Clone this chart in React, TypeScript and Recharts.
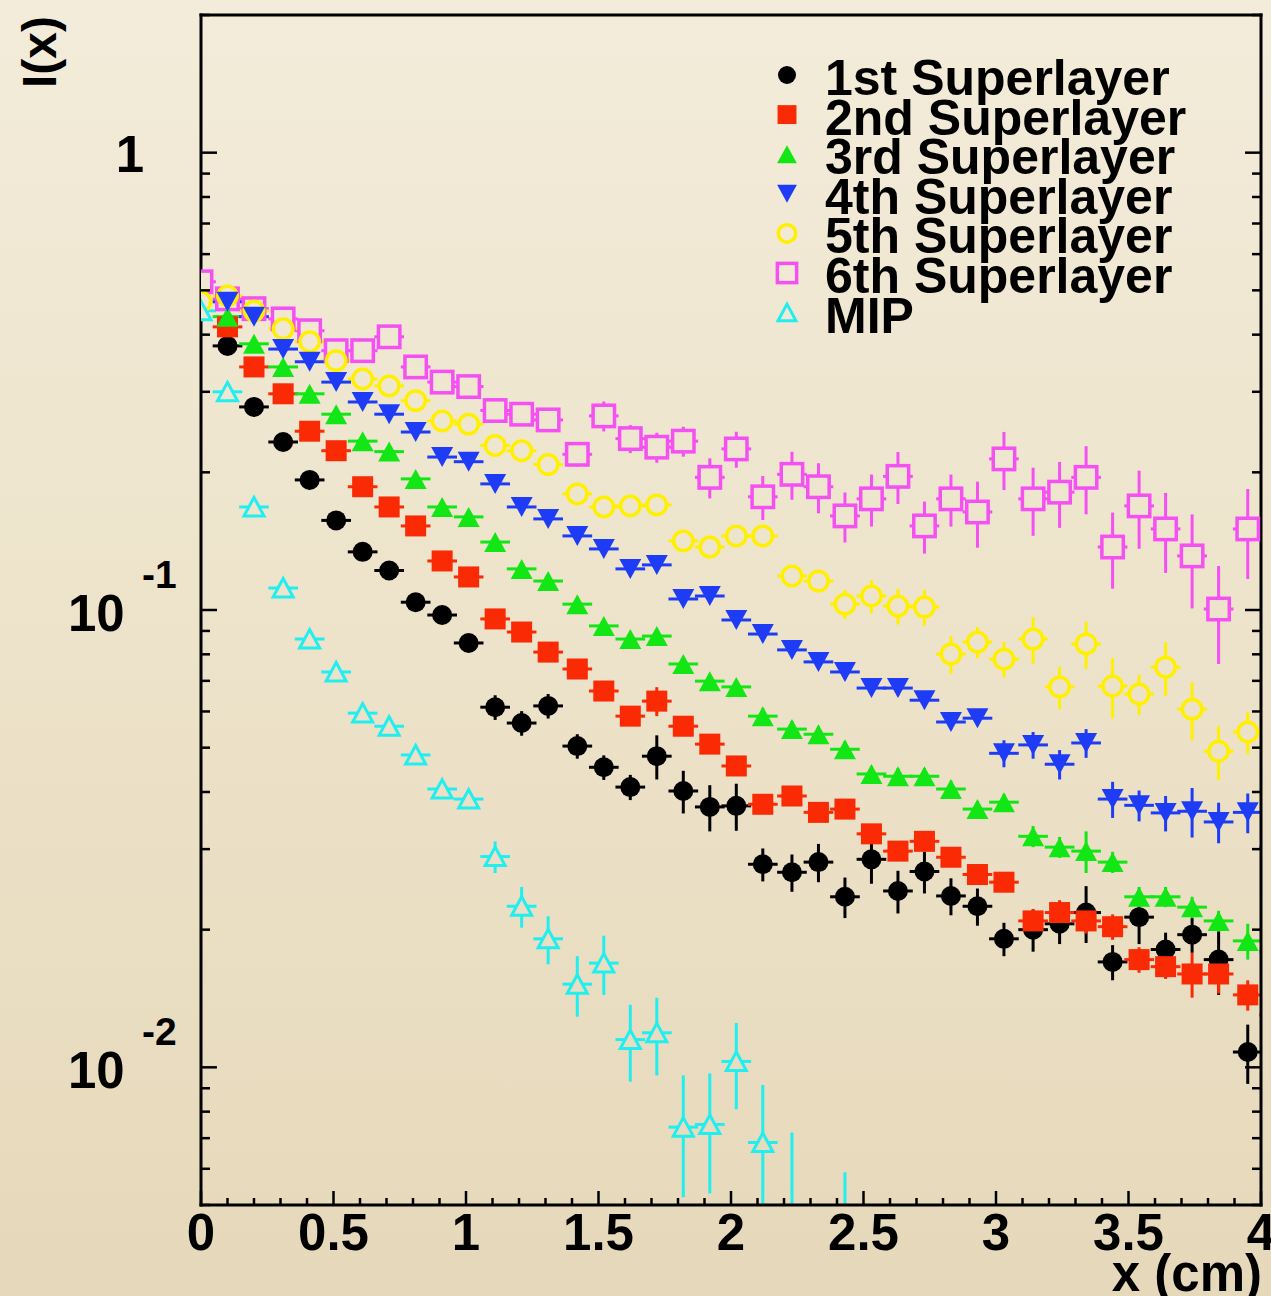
import {
  ErrorBar,
  Legend,
  Scatter,
  ScatterChart,
  XAxis,
  YAxis,
} from "recharts";

// bin positions along x (cm), shared by every series
const X_CM = [
  0.0, 0.1, 0.2, 0.31, 0.41, 0.51, 0.61, 0.71, 0.81, 0.91, 1.01, 1.11, 1.21,
  1.31, 1.42, 1.52, 1.62, 1.72, 1.82, 1.92, 2.02, 2.12, 2.23, 2.33, 2.43, 2.53,
  2.63, 2.73, 2.83, 2.93, 3.03, 3.14, 3.24, 3.34, 3.44, 3.54, 3.64, 3.74, 3.84,
  3.95, 4.05,
];

// I(x) for each superlayer (null = no point in that bin)
const SL1 = [
  null, 0.378, 0.278, 0.233, 0.1925, 0.157, 0.134, 0.122, 0.104, 0.0975, 0.0847,
  0.0613, 0.0566, 0.0617, 0.0504, 0.0453, 0.041, 0.0479, 0.0402, 0.0371, 0.0373,
  0.0278, 0.0267, 0.0281, 0.0236, 0.0285, 0.0243, 0.0268, 0.0237, 0.0225, 0.0191,
  0.02, 0.0206, 0.0218, 0.017, 0.0213, 0.0181, 0.0195, 0.0172, 0.0108, null,
];
const SL1_ERR = [
  null, 0.0096, 0.0071, 0.0059, 0.0049, 0.004, 0.0034, 0.0031, 0.0027, 0.0025,
  0.0022, 0.0038, 0.0035, 0.0038, 0.0031, 0.0028, 0.0026, 0.0053, 0.0043, 0.0043,
  0.0044, 0.0023, 0.0025, 0.0027, 0.0024, 0.0033, 0.0026, 0.0028, 0.0022, 0.0021,
  0.0016, 0.0021, 0.002, 0.0031, 0.0015, 0.0027, 0.0016, 0.0017, 0.0028, 0.0016,
  null,
];

const SL2 = [
  null, 0.416, 0.34, 0.297, 0.246, 0.223, 0.186, 0.168, 0.1527, 0.128, 0.1181,
  0.0956, 0.0895, 0.0809, 0.0743, 0.0665, 0.0586, 0.0632, 0.0557, 0.0509, 0.0456,
  0.0376, 0.0392, 0.0361, 0.0367, 0.0324, 0.0297, 0.0312, 0.0288, 0.0264, 0.0254,
  0.0209, 0.0218, 0.0209, 0.0203, 0.0172, 0.0166, 0.016, 0.016, 0.0144, 0.013,
];
const SL2_ERR = [
  null, 0.0128, 0.0104, 0.0091, 0.0076, 0.0068, 0.0057, 0.0052, 0.0047, 0.0039,
  0.0036, 0.0029, 0.0027, 0.0025, 0.0023, 0.002, 0.0018, 0.0046, 0.0026, 0.0024,
  0.0021, 0.0017, 0.0018, 0.0017, 0.0017, 0.0015, 0.0014, 0.0014, 0.0013, 0.0012,
  0.0012, 0.0013, 0.0014, 0.0013, 0.0013, 0.0011, 0.001, 0.0018, 0.0015, 0.0011,
  0.001,
];

const SL3 = [
  null, 0.438, 0.382, 0.34, 0.297, 0.268, 0.234, 0.222, 0.1935, 0.168, 0.1598,
  0.1408, 0.123, 0.1157, 0.103, 0.0923, 0.0864, 0.0877, 0.0762, 0.0699, 0.0679,
  0.0586, 0.0549, 0.0535, 0.0496, 0.0438, 0.0433, 0.0433, 0.0406, 0.0367, 0.038,
  0.032, 0.0303, 0.0297, 0.0281, 0.0236, 0.0236, 0.0224, 0.0209, 0.0189, 0.0179,
];
const SL3_ERR = [
  null, 0.0112, 0.0097, 0.0087, 0.0076, 0.0068, 0.006, 0.0057, 0.0049, 0.0043,
  0.0041, 0.0036, 0.0031, 0.003, 0.0026, 0.0024, 0.0022, 0.0022, 0.0019, 0.0018,
  0.0017, 0.0024, 0.0023, 0.0022, 0.002, 0.0018, 0.0018, 0.0018, 0.0017, 0.0015,
  0.0016, 0.0017, 0.0016, 0.0031, 0.0015, 0.0012, 0.0012, 0.0012, 0.0011, 0.0017,
  0.0012,
];

const SL4 = [
  null, 0.472, 0.438, 0.372, 0.349, 0.315, 0.285, 0.268, 0.245, 0.216, 0.211,
  0.1887, 0.168, 0.1582, 0.1452, 0.136, 0.123, 0.1255, 0.1057, 0.1073, 0.0951,
  0.0886, 0.0818, 0.077, 0.0732, 0.0675, 0.0675, 0.0635, 0.0569, 0.058, 0.0486,
  0.0507, 0.046, 0.0512, 0.0386, 0.0374, 0.036, 0.0363, 0.0344, 0.0361, 0.0303,
];
const SL4_ERR = [
  null, 0.0096, 0.0089, 0.0076, 0.0071, 0.0064, 0.0058, 0.0055, 0.005, 0.0044,
  0.0043, 0.0038, 0.0034, 0.0032, 0.003, 0.0028, 0.0025, 0.0026, 0.0022, 0.0022,
  0.0034, 0.0032, 0.0029, 0.0028, 0.0026, 0.0024, 0.0024, 0.0023, 0.002, 0.0021,
  0.0033, 0.0034, 0.0034, 0.0037, 0.0035, 0.0029, 0.0032, 0.0045, 0.0035, 0.0036,
  0.0035,
];

const SL5 = [
  0.472, 0.486, 0.451, 0.412, 0.386, 0.351, 0.32, 0.309, 0.287, 0.259, 0.255,
  0.229, 0.223, 0.208, 0.1794, 0.168, 0.1689, 0.1698, 0.1416, 0.1373, 0.1452,
  0.1452, 0.1187, 0.1157, 0.103, 0.1073, 0.102, 0.1015, 0.0801, 0.0851, 0.0781,
  0.0864, 0.0679, 0.0843, 0.0682, 0.0655, 0.075, 0.0607, 0.0491, 0.0541, 0.0696,
];
const SL5_ERR = [
  0.012, 0.0124, 0.0115, 0.0105, 0.0098, 0.009, 0.0082, 0.0079, 0.0073, 0.0066,
  0.0065, 0.0058, 0.0057, 0.0053, 0.0046, 0.0043, 0.0043, 0.0043, 0.0036, 0.0035,
  0.0075, 0.0075, 0.0061, 0.006, 0.0075, 0.009, 0.0091, 0.0091, 0.0076, 0.0067,
  0.007, 0.0101, 0.0072, 0.0099, 0.0103, 0.0066, 0.0101, 0.0088, 0.0066, 0.0057,
  0.0074,
];

const SL6 = [
  0.522, 0.479, 0.456, 0.433, 0.408, 0.369, 0.369, 0.3957, 0.34, 0.315, 0.308,
  0.273, 0.268, 0.2604, 0.219, 0.2657, 0.237, 0.227, 0.234, 0.195, 0.225, 0.1768,
  0.198, 0.186, 0.1606, 0.175, 0.196, 0.1527, 0.175, 0.1638, 0.214, 0.175, 0.181,
  0.195, 0.1373, 0.1689, 0.1504, 0.1313, 0.1005, 0.1504, null,
];
const SL6_ERR = [
  0.0158, 0.0145, 0.0138, 0.0131, 0.0123, 0.0111, 0.0111, 0.012, 0.0154, 0.0143,
  0.014, 0.0124, 0.0121, 0.0118, 0.0132, 0.02, 0.0167, 0.0171, 0.0176, 0.0196,
  0.0203, 0.0195, 0.0238, 0.0233, 0.0201, 0.0228, 0.0255, 0.0199, 0.0228, 0.027,
  0.0311, 0.0297, 0.0298, 0.0331, 0.026, 0.0328, 0.0299, 0.0305, 0.0243, 0.0335,
  null,
];

const MIP = [
  0.451, 0.3, 0.168, 0.1117, 0.0864, 0.0732, 0.0595, 0.0557, 0.0482, 0.0406,
  0.0386, 0.0289, 0.0225, 0.0191, 0.0152, 0.0169, 0.0115, 0.0119, 0.0074, 0.0075,
  0.0103, 0.00685, 0.0035, null, 0.002,
];
const MIP_ERR = [
  0.0114, 0.0076, 0.0042, 0.0028, 0.0035, 0.003, 0.0024, 0.0022, 0.0019, 0.0016,
  0.0016, 0.0023, 0.0023, 0.0023, 0.0023, 0.0025, 0.0022, 0.0023, 0.0022, 0.0022,
  0.0022, 0.0023, 0.0037, null, 0.0039,
];

const X_HALF_BIN = 0.056;

const X_TICKS = [
  0, 0.1, 0.2, 0.3, 0.4, 0.5, 0.6, 0.7, 0.8, 0.9, 1, 1.1, 1.2, 1.3, 1.4, 1.5,
  1.6, 1.7, 1.8, 1.9, 2, 2.1, 2.2, 2.3, 2.4, 2.5, 2.6, 2.7, 2.8, 2.9, 3, 3.1,
  3.2, 3.3, 3.4, 3.5, 3.6, 3.7, 3.8, 3.9, 4,
];
const X_LABELS = [0, 0.5, 1, 1.5, 2, 2.5, 3, 3.5, 4];
const Y_TICKS = [
  0.005, 0.006, 0.007, 0.008, 0.009, 0.01, 0.02, 0.03, 0.04, 0.05, 0.06, 0.07,
  0.08, 0.09, 0.1, 0.2, 0.3, 0.4, 0.5, 0.6, 0.7, 0.8, 0.9, 1, 2,
];
const Y_LABELS = [0.01, 0.1, 1];

const FONT = "'Liberation Sans', Arial, Helvetica, sans-serif";
const BG = ["#f3ecda", "#ede3ca", "#e6d8ba"];

// chart box and axis sizes; the frame is what is left inside them
const CHART_W = 1271;
const CHART_H = 1296;
const LEFT_AXIS_W = 201;
const RIGHT_AXIS_W = 10;
const TOP_AXIS_H = 15;
const BOTTOM_AXIS_H = 91;

const SERIES = [
  { name: "1st Superlayer", values: SL1, errors: SL1_ERR, color: "#000000", marker: "circle" },
  { name: "2nd Superlayer", values: SL2, errors: SL2_ERR, color: "#fa2a05", marker: "square" },
  { name: "3rd Superlayer", values: SL3, errors: SL3_ERR, color: "#12e614", marker: "triangleUp" },
  { name: "4th Superlayer", values: SL4, errors: SL4_ERR, color: "#1e3cf5", marker: "triangleDown" },
  { name: "5th Superlayer", values: SL5, errors: SL5_ERR, color: "#fff000", marker: "openCircle" },
  { name: "6th Superlayer", values: SL6, errors: SL6_ERR, color: "#f450f2", marker: "openSquare" },
  { name: "MIP", values: MIP, errors: MIP_ERR, color: "#22eef0", marker: "openTriangle" },
];

// hollow markers first, so their background fill never covers a solid one
const DRAW_ORDER = [5, 4, 6, 0, 1, 2, 3];

const toPoints = (values: (number | null)[], errors: (number | null)[]) =>
  X_CM.flatMap((x, i) => {
    const y = values[i];
    if (y == null) return [];
    const e = errors[i] ?? 0;
    return [{ x, y, ex: X_HALF_BIN, ey: [Math.min(e, y * 0.98), e] }];
  });

const Marker = ({ cx, cy, kind, color, scale = 1 }: any) => {
  if (cx == null || cy == null || Number.isNaN(cx) || Number.isNaN(cy)) return null;
  const s = scale;
  switch (kind) {
    case "circle":
      return <circle cx={cx} cy={cy} r={10 * s} fill={color} />;
    case "square":
      return <rect x={cx - 10.5 * s} y={cy - 10.5 * s} width={21 * s} height={21 * s} fill={color} />;
    case "triangleUp":
      return (
        <polygon
          points={`${cx - 11 * s},${cy + 10 * s} ${cx + 11 * s},${cy + 10 * s} ${cx},${cy - 10 * s}`}
          fill={color}
        />
      );
    case "triangleDown":
      return (
        <polygon
          points={`${cx - 11 * s},${cy - 10 * s} ${cx + 11 * s},${cy - 10 * s} ${cx},${cy + 10 * s}`}
          fill={color}
        />
      );
    case "openCircle":
      return <circle cx={cx} cy={cy} r={9.7 * s} fill="url(#page-bg)" stroke={color} strokeWidth={3.5} />;
    case "openSquare":
      return (
        <rect
          x={cx - 10.7 * s}
          y={cy - 10.7 * s}
          width={21.4 * s}
          height={21.4 * s}
          fill="url(#page-bg)"
          stroke={color}
          strokeWidth={3.5}
        />
      );
    default:
      return (
        <polygon
          points={`${cx - 10 * s},${cy + 9 * s} ${cx + 10 * s},${cy + 9 * s} ${cx},${cy - 9.5 * s}`}
          fill="url(#page-bg)"
          stroke={color}
          strokeWidth={3}
        />
      );
  }
};

const labelStyle = { fontFamily: FONT, fontWeight: 700, fill: "#000" };

const XTickBottom = ({ x, y, payload }: any) => {
  const major = X_LABELS.includes(payload.value);
  return (
    <g>
      <line x1={x} x2={x} y1={y} y2={y - (major ? 14 : 7)} stroke="#000" strokeWidth={2.5} />
      {major && (
        <text x={x} y={y + 45} textAnchor="middle" fontSize={51} {...labelStyle}>
          {String(payload.value)}
        </text>
      )}
    </g>
  );
};

const XTickTop = ({ x, y, payload }: any) => {
  const major = X_LABELS.includes(payload.value);
  return <line x1={x} x2={x} y1={y} y2={y + (major ? 14 : 7)} stroke="#000" strokeWidth={2.5} />;
};

const YTickLeft = ({ x, y, payload }: any) => {
  const v = payload.value;
  const major = Y_LABELS.includes(v);
  const exp = Math.round(Math.log10(v));
  return (
    <g>
      <line x1={x} x2={x + (major ? 16 : 9)} y1={y} y2={y} stroke="#000" strokeWidth={2.5} />
      {major && exp === 0 && (
        <text x={x - 57} y={y + 19} textAnchor="end" fontSize={51} {...labelStyle}>
          1
        </text>
      )}
      {major && exp !== 0 && (
        <g>
          <text x={x - 133} y={y + 21} fontSize={51} {...labelStyle}>
            10
          </text>
          <text x={x - 59} y={y - 22} fontSize={39} {...labelStyle}>
            {`-${Math.abs(exp)}`}
          </text>
        </g>
      )}
    </g>
  );
};

const YTickRight = ({ x, y, payload }: any) => {
  const major = Y_LABELS.includes(payload.value);
  return <line x1={x} x2={x - (major ? 16 : 9)} y1={y} y2={y} stroke="#000" strokeWidth={2.5} />;
};

const XTitle = (props: any) => {
  const vb = props.viewBox ?? { x: LEFT_AXIS_W, y: CHART_H - BOTTOM_AXIS_H, width: 1060, height: BOTTOM_AXIS_H };
  return (
    <text x={vb.x + vb.width + 1} y={vb.y + 86} textAnchor="end" fontSize={51} {...labelStyle}>
      x (cm)
    </text>
  );
};

const YTitle = (props: any) => {
  const vb = props.viewBox ?? { x: 0, y: TOP_AXIS_H, width: LEFT_AXIS_W, height: 1190 };
  const tx = vb.x + 56;
  const ty = vb.y + 1;
  return (
    <text x={tx} y={ty} transform={`rotate(-90, ${tx}, ${ty})`} textAnchor="end" fontSize={48} {...labelStyle}>
      I(x)
    </text>
  );
};

const LegendBox = ({ payload }: any) => {
  const names = SERIES.map((s) => s.name);
  const items = [...(payload ?? [])].sort((a, b) => names.indexOf(a.value) - names.indexOf(b.value));
  return (
    <svg width={480} height={300} style={{ overflow: "visible" }}>
      {items.map((item: any, i: number) => {
        const s = SERIES[names.indexOf(item.value)];
        if (!s) return null;
        const cy = 25 + i * 39.6;
        return (
          <g key={s.name}>
            <Marker cx={27} cy={cy} kind={s.marker} color={s.color} scale={0.9} />
            <text x={65} y={cy + 20} fontSize={50} {...labelStyle}>
              {s.name}
            </text>
          </g>
        );
      })}
    </svg>
  );
};

const frameStroke = { stroke: "#000", strokeWidth: 3, strokeLinecap: "square" as const };

export default function App() {
  return (
    <div
      style={{
        position: "absolute",
        left: 0,
        top: 0,
        width: CHART_W,
        height: CHART_H,
        background: `linear-gradient(to bottom, ${BG[0]} 0%, ${BG[1]} 50%, ${BG[2]} 100%)`,
      }}
    >
      <style>{".recharts-scatter, .recharts-errorBars { clip-path: url(#plot-clip); }"}</style>
      <svg width={0} height={0} style={{ position: "absolute" }}>
        <defs>
          <linearGradient id="page-bg" gradientUnits="userSpaceOnUse" x1={0} y1={0} x2={0} y2={CHART_H}>
            <stop offset="0%" stopColor={BG[0]} />
            <stop offset="50%" stopColor={BG[1]} />
            <stop offset="100%" stopColor={BG[2]} />
          </linearGradient>
          <clipPath id="plot-clip">
            <rect
              x={LEFT_AXIS_W}
              y={TOP_AXIS_H}
              width={CHART_W - LEFT_AXIS_W - RIGHT_AXIS_W}
              height={CHART_H - TOP_AXIS_H - BOTTOM_AXIS_H}
            />
          </clipPath>
        </defs>
      </svg>
      <ScatterChart width={CHART_W} height={CHART_H} margin={{ top: 0, right: 0, bottom: 0, left: 0 }}>
        <XAxis
          type="number"
          dataKey="x"
          domain={[0, 4]}
          allowDataOverflow
          ticks={X_TICKS}
          interval={0}
          tick={XTickBottom}
          tickLine={false}
          tickSize={0}
          tickMargin={0}
          height={BOTTOM_AXIS_H}
          axisLine={frameStroke}
          label={XTitle}
        />
        <XAxis
          xAxisId="top"
          orientation="top"
          type="number"
          domain={[0, 4]}
          allowDataOverflow
          ticks={X_TICKS}
          interval={0}
          tick={XTickTop}
          tickLine={false}
          tickSize={0}
          tickMargin={0}
          height={TOP_AXIS_H}
          axisLine={frameStroke}
        />
        <YAxis
          type="number"
          dataKey="y"
          scale="log"
          domain={[0.005, 2]}
          allowDataOverflow
          ticks={Y_TICKS}
          interval={0}
          tick={YTickLeft}
          tickLine={false}
          tickSize={0}
          tickMargin={0}
          width={LEFT_AXIS_W}
          axisLine={frameStroke}
          label={YTitle}
        />
        <YAxis
          yAxisId="right"
          orientation="right"
          type="number"
          scale="log"
          domain={[0.005, 2]}
          allowDataOverflow
          ticks={Y_TICKS}
          interval={0}
          tick={YTickRight}
          tickLine={false}
          tickSize={0}
          tickMargin={0}
          width={RIGHT_AXIS_W}
          axisLine={frameStroke}
        />
        <Legend
          content={LegendBox}
          layout="vertical"
          align="center"
          verticalAlign="middle"
          wrapperStyle={{ left: 760, top: 50, width: 480 }}
        />
        {DRAW_ORDER.map((idx) => {
          const s = SERIES[idx];
          return (
            <Scatter
              key={s.name}
              name={s.name}
              data={toPoints(s.values, s.errors)}
              fill={s.color}
              isAnimationActive={false}
              shape={(p: any) => <Marker cx={p.cx} cy={p.cy} kind={s.marker} color={s.color} />}
            >
              <ErrorBar dataKey="ey" direction="y" width={0} stroke={s.color} strokeWidth={3} />
              <ErrorBar dataKey="ex" direction="x" width={0} stroke={s.color} strokeWidth={3} />
            </Scatter>
          );
        })}
      </ScatterChart>
    </div>
  );
}
